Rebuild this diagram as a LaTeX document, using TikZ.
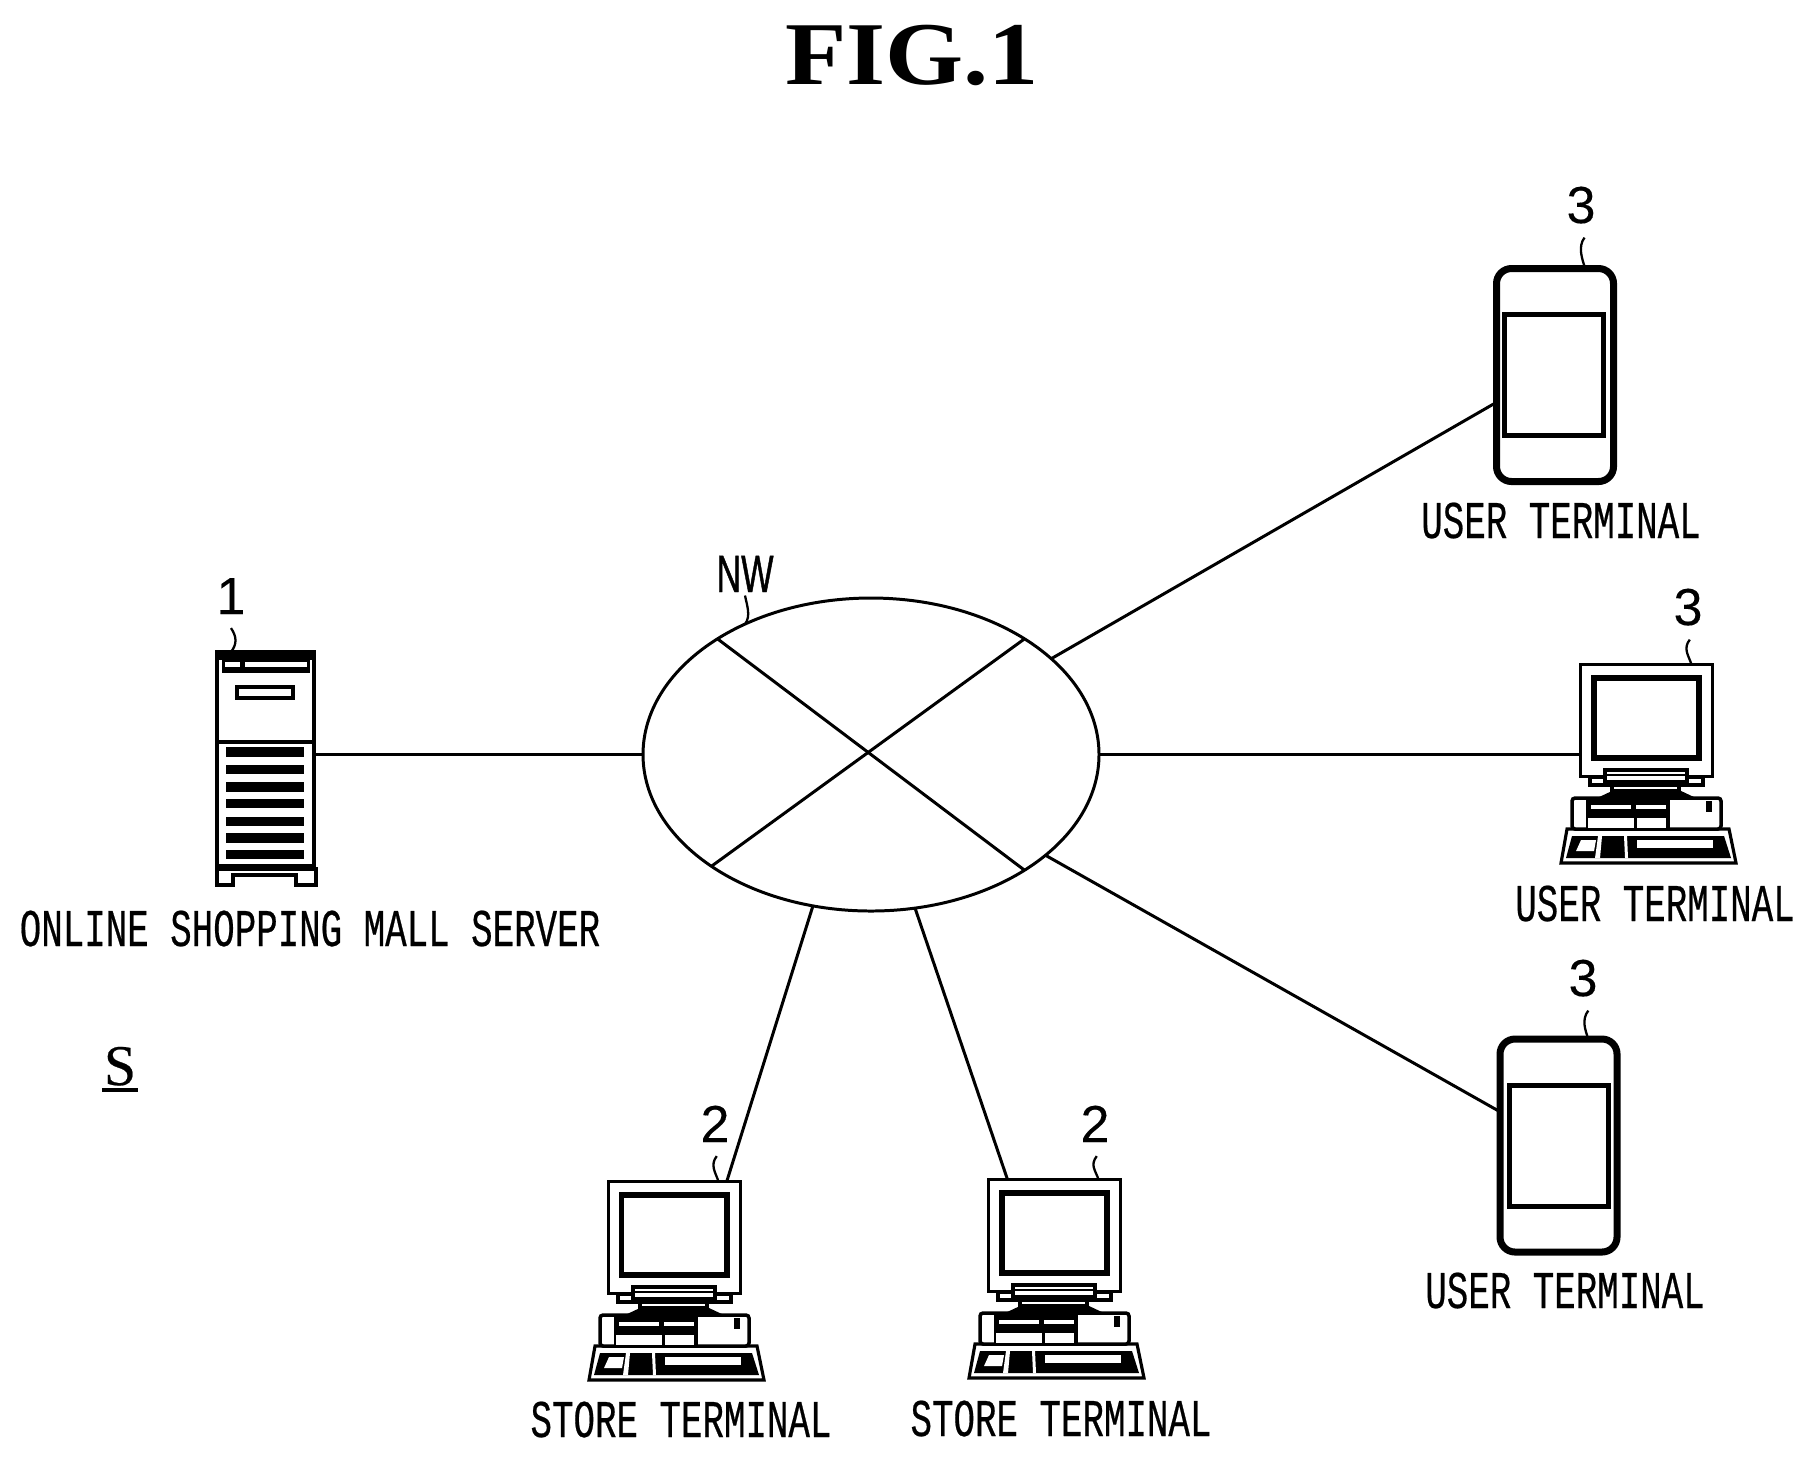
\documentclass[tikz,border=0pt]{standalone}
\usepackage{fontspec}
\usetikzlibrary{shapes.geometric}
\newfontfamily\termfont[FakeStretch=0.675,FakeBold=0.4]{Liberation Mono}
\newfontfamily\numfont[FakeBold=0.2]{Liberation Sans}
\newfontfamily\nwfont[FakeStretch=0.65,FakeBold=0.8]{Liberation Sans}
\newfontfamily\figfont[FakeStretch=1.12]{Liberation Serif}
\newfontfamily\sysfont[FakeBold=0.4]{Liberation Serif}
\tikzset{
	every node/.append style={inner sep=0pt, outer sep=0pt},
	link/.style={line width=0.85pt},
	leadline/.style={line width=0.65pt},
	termlab/.style={anchor=base, font=\termfont\fontsize{15.1}{18}\selectfont},
	numlab/.style={anchor=base, outer sep=4pt, font=\numfont\fontsize{14.8}{18}\selectfont},
	phonebody/.style={draw, rounded corners=1.5mm, line width=2pt, minimum width=11.7mm, minimum height=21.3mm},
	phonescreen/.style={draw, line width=1.2pt, minimum width=9.9mm, minimum height=12.1mm},
	terminal/.pic={
		% keyboard
		\draw [fill=white, line width=0.9pt] (-12,-166) -- (150,-166) -- (157,-200) -- (-18,-200) -- cycle;
		\fill [black] (-7,-173) -- (145,-173) -- (152,-195) -- (-13,-195) -- cycle;
		\fill [white] (2,-177) -- (17,-177) -- (15,-188) -- (-3,-188) -- cycle;
		\fill [white] (19,-173) -- (23,-173) -- (21,-195) -- (16,-195) -- cycle;
		\fill [white] (45,-173) -- (48,-173) -- (49,-195) -- (46,-195) -- cycle;
		\fill [white] (58,-177) rectangle (134,-185);
		% desktop box
		\draw [fill=white, line width=1pt, rounded corners=0.3mm] (-7,-135) rectangle (142,-166);
		\fill [black] (7,-135) rectangle (91,-166);
		\fill [white] (12,-142) rectangle (52,-146);
		\fill [white] (57,-142) rectangle (87,-146);
		\fill [white] (9,-155) rectangle (55,-165);
		\fill [white] (58,-155) rectangle (87,-165);
		\fill [black] (127,-138) rectangle (133,-149);
		% stand
		\fill [black] (18,-135) -- (35,-127) -- (100,-127) -- (117,-135) -- cycle;
		\draw [fill=white, line width=0.9pt] (33,-122) rectangle (100,-128);
		\draw [fill=white, line width=0.9pt] (11,-114) rectangle (124,-122);
		% monitor
		\node [draw, fill=white, line width=0.9pt, minimum width=13.2mm, minimum height=11.2mm] (-mon) at (67.5,-57.5) {};
		\draw [line width=1.7pt] (14.5,-15) rectangle (119.5,-94.5);
		\draw [fill=white, line width=0.9pt] (26,-107) rectangle (108,-119);
		\draw [line width=0.6pt] (26,-112) -- (108,-112);
	}
}

\begin{document}
\begin{tikzpicture}[x=0.1mm,y=0.1mm]
	\useasboundingbox (0,0) rectangle (1815,-1458);
	\node [anchor=base, font=\figfont\bfseries\fontsize{25.5}{30}\selectfont] (figtitle) at (912,-84) {FIG.1};

	% network
	\node [draw, ellipse, link, minimum width=45.6mm, minimum height=31.3mm] (net) at (871,-754.5) {};
	\draw [link] (net.143.9) -- (net.323.7);
	\draw [link] (net.37.3) -- (net.215.7);
	\node [anchor=base, outer sep=1pt, font=\nwfont\fontsize{15}{18}\selectfont] (nwlab) at (745,-592) {NW};
	\draw [leadline] (net.134.4) .. controls +(6,8) and +(2,-10) .. (nwlab.south);

	% server
	\node [draw, line width=1pt, minimum width=9.7mm, minimum height=21.4mm] (srv) at (265.5,-759) {};
	\fill [black] (217,-652) rectangle (314,-660);
	\fill [black] (222,-657) rectangle (310,-673);
	\fill [white] (225,-662) rectangle (240,-667);
	\fill [white] (245,-662) rectangle (307,-667);
	\draw [line width=1.1pt] (237,-687) rectangle (293,-698);
	\draw [line width=1pt] (217,-742) -- (314,-742);
	\fill [black] (226,-747) rectangle (304,-757);
	\fill [black] (226,-765) rectangle (304,-774);
	\fill [black] (226,-782) rectangle (304,-792);
	\fill [black] (226,-799) rectangle (304,-808);
	\fill [black] (226,-817) rectangle (304,-826);
	\fill [black] (226,-833) rectangle (304,-843);
	\fill [black] (226,-850) rectangle (304,-859);
	\draw [line width=0.9pt] (217,-869) -- (316,-869) -- (316,-885) -- (296,-885) -- (296,-875) -- (233,-875) -- (233,-885) -- (217,-885) -- cycle;
	\node [numlab] (srvnum) at (231,-614) {1};
	\draw [leadline] (srvnum.south |- srv.north) .. controls +(6,8) and +(6,-9) .. (srvnum.south);
	\node [termlab] (srvlab) at (310,-946) {ONLINE SHOPPING MALL SERVER};
	\draw [link] (net.west) -- (net.west -| srv.east);

	% system label
	\node [anchor=base, inner xsep=0.5pt, font=\sysfont\fontsize{16.4}{18}\selectfont] (syslab) at (120,-1085) {S};
	\draw [line width=1pt] ([yshift=-1.2pt]syslab.south west) -- ([yshift=-1.2pt]syslab.south east);

	% store terminals
	\pic (stora) at (607,-1180) {terminal};
	\node [numlab] (storanum) at (715,-1142) {2};
	\draw [leadline] ([xshift=1pt]storanum.south |- stora-mon.north) .. controls +(-3,9) and +(-7,-9) .. ([xshift=0.5pt]storanum.south);
	\node [termlab] (storalab) at (681,-1437) {STORE TERMINAL};
	\draw [link] (net.249.3) -- (stora-mon.47);

	\pic (storb) at (987,-1178) {terminal};
	\node [numlab] (storbnum) at (1095,-1142) {2};
	\draw [leadline] ([xshift=1pt]storbnum.south |- storb-mon.north) .. controls +(-3,9) and +(-7,-9) .. ([xshift=0.5pt]storbnum.south);
	\node [termlab] (storblab) at (1061,-1436) {STORE TERMINAL};
	\draw [link] (net.286.7) -- (storb-mon.130);

	% user terminals
	\node [phonebody] (phonea) at (1555,-375) {};
	\node [phonescreen] (screena) at (1554,-375) {};
	\node [numlab] (phoneanum) at (1581,-223) {3};
	\draw [leadline] ([xshift=1.2pt]phoneanum.south |- phonea.north) .. controls +(-3,9) and +(-7,-9) .. ([xshift=1pt]phoneanum.south);
	\node [termlab] (phonealab) at (1561,-538) {USER TERMINAL};
	\draw [link] (net.28) -- (phonea.205.8);

	\pic (usrb) at (1579,-663) {terminal};
	\node [numlab] (usrbnum) at (1688,-625) {3};
	\draw [leadline] ([xshift=1pt]usrbnum.south |- usrb-mon.north) .. controls +(-3,9) and +(-7,-9) .. ([xshift=0.5pt]usrbnum.south);
	\node [termlab] (usrblab) at (1655,-921) {USER TERMINAL};
	\draw [link] (net.east) -- (net.east -| usrb-mon.west);

	\node [phonebody] (phonec) at (1558.5,-1145.5) {};
	\node [phonescreen] (screenc) at (1559,-1146) {};
	\node [numlab] (phonecnum) at (1583,-996) {3};
	\draw [leadline] ([xshift=1.5pt]phonecnum.south |- phonec.north) .. controls +(-3,9) and +(-7,-9) .. ([xshift=1.5pt]phonecnum.south);
	\node [termlab] (phoneclab) at (1565,-1308) {USER TERMINAL};
	\draw [link] (net.330) -- (phonec.150.6);
\end{tikzpicture}
\end{document}
